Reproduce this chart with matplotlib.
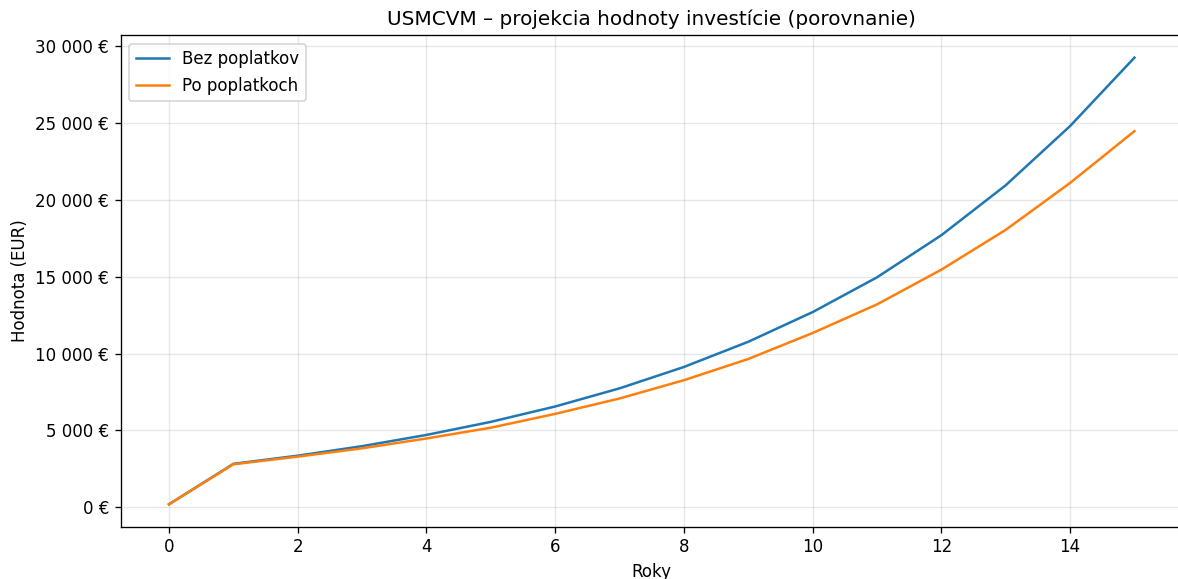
import matplotlib.pyplot as plt
from matplotlib.ticker import FuncFormatter

# values (EUR at end of each year)
years = list(range(16))
bez_poplatkov = [200, 2830, 3360, 3980, 4710, 5560, 6560, 7740, 9130,
                 10770, 12700, 14960, 17700, 20950, 24800, 29250]
po_poplatkoch = [200, 2800, 3300, 3840, 4480, 5180, 6080, 7080, 8270,
                 9650, 11340, 13200, 15460, 18050, 21100, 24470]


def eur(x, pos):
    return f"{x:,.0f} €".replace(",", " ")


def generate_graph():
    fig, ax = plt.subplots(figsize=(1178 / 120, 579 / 120), dpi=120)

    ax.plot(years, bez_poplatkov, label="Bez poplatkov")
    ax.plot(years, po_poplatkoch, label="Po poplatkoch")

    ax.set_title("USMCVM – projekcia hodnoty investície (porovnanie)")
    ax.set_xlabel("Roky")
    ax.set_ylabel("Hodnota (EUR)")
    ax.yaxis.set_major_formatter(FuncFormatter(eur))
    ax.grid(True, alpha=0.3)
    ax.legend(loc="upper left")

    # the original was cropped just left of the right spine
    fig.subplots_adjust(left=0.1025, right=1.004, top=0.939, bottom=0.0905)
    fig.savefig("out.png", dpi=120)


if __name__ == "__main__":
    generate_graph()
